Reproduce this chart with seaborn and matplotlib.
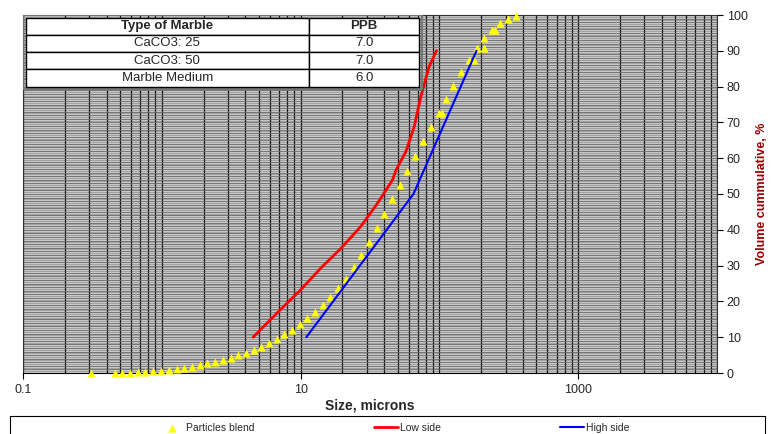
import numpy as np
import pandas as pd
import seaborn as sns
import matplotlib.pyplot as plt
from matplotlib.patches import Rectangle
from matplotlib.ticker import LogLocator, FixedLocator, NullFormatter

# particle size distribution
blend_size = [0.31, 0.46, 0.52, 0.59, 0.67, 0.76, 0.87, 0.99, 1.13, 1.28,
              1.45, 1.65, 1.88, 2.13, 2.42, 2.75, 3.13, 3.55, 4.03, 4.58,
              5.20, 5.91, 6.71, 7.62, 8.66, 9.84, 11.2, 12.7, 14.4, 16.4,
              18.7, 21.2, 24.1, 27.4, 31.1, 35.4, 40.2, 45.6, 51.9, 58.9,
              66.9, 76.0, 87.3, 98.6, 105, 111, 126, 144, 163, 178,
              187, 211, 211, 239, 250, 272, 310, 355]
blend_pct = [0, 0, 0, 0, 0.2, 0.3, 0.5, 0.6, 0.8, 1.1,
             1.4, 1.8, 2.2, 2.7, 3.2, 3.6, 4.2, 4.9, 5.6, 6.4,
             7.3, 8.4, 9.5, 10.8, 12.1, 13.6, 15.3, 17.0, 19.0, 21.2,
             23.7, 26.3, 29.5, 32.9, 36.5, 40.4, 44.4, 48.5, 52.4, 56.5,
             60.6, 64.7, 68.7, 72.5, 72.5, 76.5, 80.3, 84.1, 87.4, 87.4,
             90.7, 90.7, 93.5, 95.8, 95.8, 97.7, 99.0, 99.7]

low_size = [4.55, 7.2, 10.0, 13.9, 19.5, 27.1, 35.8, 45.9, 48.7, 57.3, 65.8, 73.5, 84.3, 95.3]
low_pct = [10, 17.8, 23.2, 29.2, 34.8, 40.9, 47.4, 53.9, 56.7, 61.8, 68.8, 77.2, 85.6, 90]

high_size = [11, 65, 185]
high_pct = [10, 50, 90]

marble_types = ['CaCO3: 25', 'CaCO3: 50', 'Marble Medium']
marble_ppb = ['7.0', '7.0', '6.0']

sns.set_theme(style='white')
plt.rcParams['font.family'] = ['Liberation Sans', 'DejaVu Sans']

fig = plt.figure(figsize=(7.74, 4.34), dpi=100)
ax = fig.add_axes([23/774, 1-373/434, 694/774, 358/434])
ax.set_facecolor('#cacaca')

# hatched gray background like the excel plot area
ax.hlines(np.arange(0.5, 100, 1), 0.1, 10000, colors='#a2a2a2', lw=0.8, zorder=0.5)
ax.hlines(np.arange(1, 100, 1), 0.1, 10000, colors='#686868', lw=0.6, zorder=0.6)

blend = pd.DataFrame({'size': blend_size, 'pct': blend_pct})
low = pd.DataFrame({'size': low_size, 'pct': low_pct})
high = pd.DataFrame({'size': high_size, 'pct': high_pct})

sns.scatterplot(data=blend, x='size', y='pct', marker='^', color='#ffff00', s=34,
                linewidth=0, ax=ax, label='Particles blend', zorder=4, clip_on=False)
sns.lineplot(data=low, x='size', y='pct', sort=False, color='#ff0000', lw=2,
             ax=ax, label='Low side', zorder=4)
sns.lineplot(data=high, x='size', y='pct', sort=False, color='#0000ff', lw=1.5,
             ax=ax, label='High side', zorder=4)

ax.set_xscale('log')
ax.set_xlim(0.1, 10000)
ax.set_ylim(0, 100)

ax.xaxis.set_major_locator(FixedLocator([0.1, 10, 1000]))
ax.xaxis.set_major_formatter(plt.FuncFormatter(lambda v, p: f'{v:g}'))
ax.xaxis.set_minor_locator(LogLocator(base=10, subs=np.arange(1, 10), numticks=50))
ax.xaxis.set_minor_formatter(NullFormatter())
ax.grid(which='both', axis='x', color='#1a1a1a', lw=0.9)
ax.grid(which='both', axis='y', visible=False)
ax.set_axisbelow(True)

ax.yaxis.tick_right()
ax.yaxis.set_label_position('right')
ax.set_yticks(range(0, 101, 10))
ax.tick_params(axis='both', which='major', labelsize=9, length=4, width=0.8,
               color='black', direction='out', pad=3)
ax.tick_params(axis='x', which='minor', length=0)
ax.tick_params(axis='x', which='major', bottom=True, pad=4)
ax.tick_params(axis='y', which='major', right=True, left=False)

for sp in ax.spines.values():
    sp.set_color('#333333')
    sp.set_linewidth(0.8)
ax.spines['bottom'].set_color('black')

ax.set_xlabel('Size, microns', fontsize=10, fontweight='bold', labelpad=2)
ax.set_ylabel('Volume cummulative, %', fontsize=9, fontweight='bold',
              color='#990000', labelpad=6)

# marble table in the upper left corner
tbl = ax.table(cellText=[[t, p] for t, p in zip(marble_types, marble_ppb)],
               colLabels=['Type of Marble', 'PPB'], cellLoc='center',
               bbox=[0.004, 0.80, 0.567, 0.193], colWidths=[0.72, 0.28])
tbl.auto_set_font_size(False)
tbl.set_fontsize(9.5)
tbl.set_zorder(6)
for (r, c), cell in tbl.get_celld().items():
    cell.set_facecolor('white')
    cell.set_edgecolor('black')
    cell.set_linewidth(1.0)
    if r == 0:
        cell.get_text().set_fontweight('bold')
ax.add_patch(Rectangle((0.0, 0.792), 0.575, 0.208, transform=ax.transAxes,
                       facecolor='none', edgecolor='#777777', lw=1.5, zorder=5.5))

handles, labels = ax.get_legend_handles_labels()
if ax.get_legend() is not None:
    ax.get_legend().remove()
fig.legend(handles, labels, loc='center', bbox_to_anchor=(0.51, 0.014), ncol=3,
           frameon=False, fontsize=7.5, columnspacing=11.5, handlelength=2.3,
           handletextpad=0.15, borderpad=0)
fig.add_artist(Rectangle((10/774, -0.05), 755/774, 0.05 + 18/434,
                         transform=fig.transFigure, fill=False,
                         edgecolor='black', lw=0.8))

fig.savefig('out.png', dpi=100)
